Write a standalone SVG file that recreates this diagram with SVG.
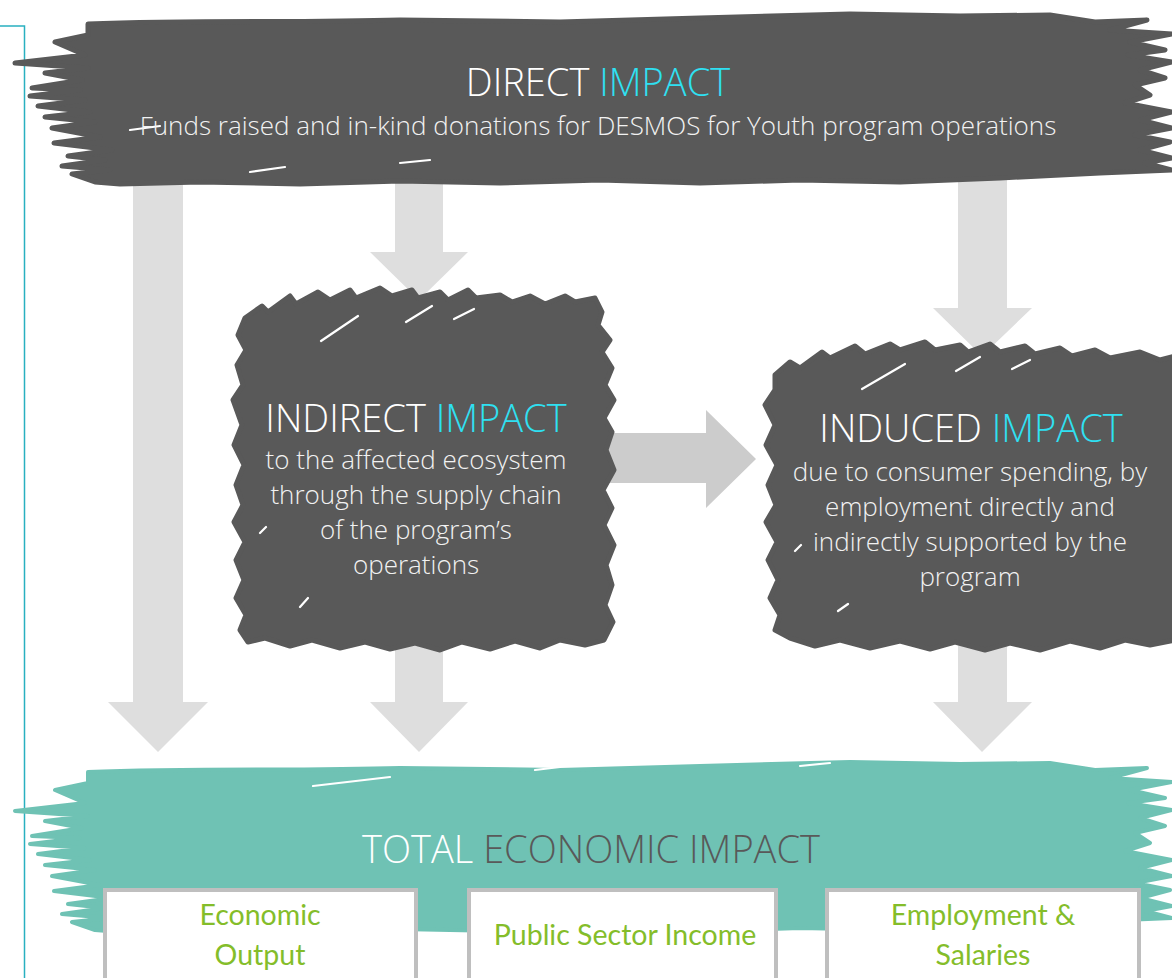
<svg xmlns="http://www.w3.org/2000/svg" width="1172" height="978" viewBox="0 0 1172 978">
<style>
.ttl{font-family:"Open Sans","Liberation Sans",sans-serif;font-weight:300;font-size:38px;text-anchor:middle}
.sub{font-family:"Open Sans","Liberation Sans",sans-serif;font-weight:300;font-size:26px;fill:#f2f2f2;text-anchor:middle}
.w{fill:#ffffff}
.c{fill:#2fe0f2}
.g{fill:#595959}
.grn{font-family:Lato,"Liberation Sans",sans-serif;font-size:28.5px;fill:#84bd2a;text-anchor:middle}
.arr{fill:#dedede}
.box{fill:#ffffff;stroke:#bfbfbf;stroke-width:4}
.dk{fill:#595959;stroke:#595959;stroke-width:5;stroke-linejoin:round}
.tl{fill:#6fc2b4;stroke:#6fc2b4;stroke-width:4;stroke-linejoin:round}
.streak{fill:none;stroke:#ffffff;stroke-width:2.2;stroke-linecap:round}
</style>
<defs>
<path id="banner" d="M88,24 C200,20 300,23 400,20 L560,22 L700,18 L850,14 L960,16 L1050,15 L1095,22 L1147,20 L1110,30 L1172,34 L1130,42 L1165,50 L1128,55 L1172,62 L1140,70 L1165,78 L1135,85 L1150,95 L1125,103 L1172,112 L1140,120 L1172,128 L1135,135 L1170,142 L1140,150 L1172,158 L1145,163 L1172,170 L1100,173 L1000,178 L900,182 L800,180 L700,183 L600,180 L500,183 L400,181 L300,184 L200,182 L120,184 L95,182 L72,174 L110,170 L62,166 L105,160 L68,156 L112,150 L54,143 L100,137 L52,128 L95,122 L45,117 L90,112 L38,106 L85,100 L30,96 L80,90 L32,88 L82,80 L45,73 L88,68 L15,63 L85,55 L55,42 L88,35 Z"/>
</defs>

<path d="M0,26 H24.5 V978" fill="none" stroke="#29b0c0" stroke-width="1.5"/>

<g id="connectors">
<polygon class="arr" points="133,180 183,180 183,702 208,702 158,752 108,702 133,702"/>
<polygon class="arr" points="395,180 443,180 443,252 468,252 419,300 370,252 395,252"/>
<polygon class="arr" points="958,180 1007,180 1007,308 1032,308 982,356 933,308 958,308"/>
<polygon class="arr" points="395,630 443,630 443,702 468,702 419,752 370,702 395,702"/>
<polygon class="arr" points="958,630 1007,630 1007,702 1032,702 982,752 933,702 958,702"/>
<polygon points="590,433 706,433 706,410 756,459 706,508 706,483 590,483" fill="#cccccc"/>
</g>

<g id="direct">
<use href="#banner" class="dk"/>
<path class="streak" d="M130,130 L160,126 M250,172 L285,167 M400,163 L430,160"/>
<text class="ttl" x="598" y="96"><tspan class="w">DIRECT </tspan><tspan class="c">IMPACT</tspan></text>
<text class="sub" x="598" y="135">Funds raised and in-kind donations for DESMOS for Youth program operations</text>
</g>

<g id="indirect">
<path class="dk" d="M245,318 L262,306 L268,312 L290,296 L296,304 L318,292 L330,300 L350,290 L356,298 L380,288 L392,296 L412,290 L418,298 L440,292 L448,300 L468,290 L476,298 L500,295 L512,302 L530,296 L545,304 L565,296 L575,302 L595,298 L602,312 L598,325 L610,340 L602,352 L612,368 L605,385 L614,400 L604,418 L612,432 L606,450 L614,470 L603,490 L612,508 L604,525 L614,545 L606,565 L612,585 L605,605 L613,622 L604,640 L585,645 L560,640 L540,648 L515,641 L490,649 L462,642 L440,650 L415,643 L390,649 L365,642 L340,648 L312,640 L290,646 L265,638 L248,642 L240,630 L246,615 L236,598 L244,580 L236,560 L245,542 L234,522 L243,505 L236,485 L244,465 L234,445 L242,425 L233,400 L243,385 L237,365 L246,350 L238,335 Z"/>
<path class="streak" d="M321,341 L358,316 M406,322 L432,306 M454,319 L474,309 M260,533 L266,527 M300,607 L308,598"/>
<text class="ttl" x="416" y="432"><tspan class="w">INDIRECT </tspan><tspan class="c">IMPACT</tspan></text>
<text class="sub" x="416" y="469">to the affected ecosystem</text>
<text class="sub" x="416" y="504">through the supply chain</text>
<text class="sub" x="416" y="539">of the program’s</text>
<text class="sub" x="416" y="574">operations</text>
</g>

<g id="induced">
<path class="dk" d="M775,375 L790,362 L800,368 L822,352 L830,358 L855,346 L865,354 L890,344 L900,350 L925,342 L935,350 L960,345 L968,352 L990,344 L1000,352 L1025,346 L1035,354 L1060,348 L1072,356 L1095,350 L1110,358 L1140,352 L1160,360 L1175,356 L1175,640 L1150,645 L1125,640 L1100,648 L1070,641 L1040,650 L1010,643 L985,650 L955,642 L930,649 L900,641 L870,648 L840,640 L815,646 L790,638 L775,630 L780,615 L770,598 L778,580 L768,560 L777,542 L766,522 L776,505 L768,485 L777,465 L766,445 L775,425 L765,405 L775,390 Z"/>
<path class="streak" d="M862,389 L905,364 M956,371 L980,357 M1012,369 L1030,360 M795,551 L801,545 M838,611 L848,604"/>
<text class="ttl" x="971" y="442"><tspan class="w">INDUCED </tspan><tspan class="c">IMPACT</tspan></text>
<text class="sub" x="970" y="481">due to consumer spending, by</text>
<text class="sub" x="970" y="516">employment directly and</text>
<text class="sub" x="970" y="551">indirectly supported by the</text>
<text class="sub" x="970" y="586">program</text>
</g>

<g id="total">
<use href="#banner" class="tl" transform="translate(0,748)"/>
<path class="streak" d="M313,786 L390,777 M535,770 L560,767 M800,766 L830,763"/>
<text class="ttl" x="591" y="863"><tspan class="w">TOTAL </tspan><tspan class="g">ECONOMIC IMPACT</tspan></text>
</g>

<g id="output">
<rect class="box" x="105" y="890" width="311" height="100"/>
<text class="grn" x="260" y="925">Economic</text>
<text class="grn" x="260" y="965">Output</text>
</g>
<g id="public">
<rect class="box" x="469" y="890" width="307" height="100"/>
<text class="grn" x="625" y="945">Public Sector Income</text>
</g>
<g id="employment">
<rect class="box" x="827" y="890" width="312" height="100"/>
<text class="grn" x="983" y="925">Employment &amp;</text>
<text class="grn" x="983" y="965">Salaries</text>
</g>
</svg>
